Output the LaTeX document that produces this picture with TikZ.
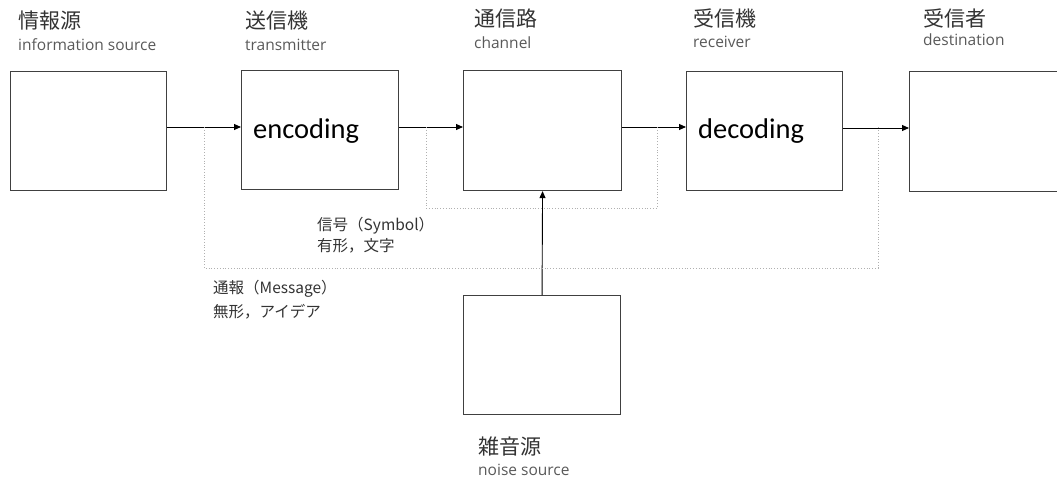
\documentclass[tikz,border=0pt]{standalone}
\usepackage{fontspec}
\setmainfont{Open Sans}
\newfontfamily\jpfont{Noto Sans CJK JP}
\newfontfamily\calibrifont{Carlito}
\usetikzlibrary{arrows.meta}
\definecolor{boxline}{HTML}{404040}
\definecolor{jptext}{HTML}{333333}
\definecolor{entext}{HTML}{595959}
\definecolor{dotline}{HTML}{B0B0B0}
\tikzset{
  blk/.style={draw=boxline, line width=1.1pt, rectangle, anchor=north west, inner sep=0pt},
  jplabel/.style={anchor=base west, inner sep=0pt, text=jptext, font=\jpfont\fontsize{21}{24}\selectfont},
  enlabel/.style={anchor=base west, inner sep=0pt, text=entext, font=\fontsize{15.5}{18}\selectfont},
  smalljp/.style={anchor=base west, inner sep=0pt, text=jptext, font=\jpfont\fontsize{15.5}{18}\selectfont},
  bigword/.style={anchor=base west, inner sep=0pt, text=black, font=\calibrifont\fontsize{28.5}{32}\selectfont},
  arr/.style={draw=black, line width=0.9pt, -{Triangle[length=7pt,width=6pt]}},
  dots/.style={draw=dotline, line width=0.8pt, dotted},
}
\begin{document}
\begin{tikzpicture}[x=1pt,y=-1pt]
\useasboundingbox (0,0) rectangle (1057,479);
% boxes
\node[blk, minimum width=156pt, minimum height=119pt] (src) at (10,71) {};
\node[blk, minimum width=157pt, minimum height=119pt] (tx) at (241,70) {};
\node[blk, minimum width=158pt, minimum height=120pt] (ch) at (463,70) {};
\node[blk, minimum width=156pt, minimum height=119pt] (rx) at (686,71) {};
\node[blk, minimum width=157pt, minimum height=120pt] (dst) at (909,71) {};
\node[blk, minimum width=157pt, minimum height=119pt] (noise) at (463,295) {};
% headers
\node[jplabel] (h1) at (18,28) {情報源};
\node[enlabel] (e1) at (18,50) {information source};
\node[jplabel] (h2) at (245,28) {送信機};
\node[enlabel] (e2) at (245,50) {transmitter};
\node[jplabel] (h3) at (474,27) {通信路};
\node[enlabel] (e3) at (474,48) {channel};
\node[jplabel] (h4) at (693,26) {受信機};
\node[enlabel] (e4) at (693,47) {receiver};
\node[jplabel] (h5) at (923,26) {受信者};
\node[enlabel] (e5) at (923,45) {destination};
\node[jplabel] (h6) at (478,454) {雑音源};
\node[enlabel] (e6) at (478,475) {noise source};
% inner words
\node[bigword] (enc) at (253,138) {encoding};
\node[bigword] (dec) at (698,138) {decoding};
% annotations
\node[smalljp] (sym1) at (317,230) {信号（Symbol）};
\node[smalljp] (sym2) at (317,251) {有形，文字};
\node[smalljp] (msg1) at (213,293) {通報（Message）};
\node[smalljp] (msg2) at (213,317) {無形，アイデア};
% arrows
\draw[arr] (src.east |- 0,127) -- (tx.west |- 0,127);
\draw[arr] (tx.east |- 0,127) -- (ch.west |- 0,127);
\draw[arr] (ch.east |- 0,127) -- (rx.west |- 0,127);
\draw[arr] (rx.east |- 0,128) -- (dst.west |- 0,128);
\draw[arr] (noise.north) -- (ch.south);
% dotted groupings
\coordinate (m1) at (204,127);
\coordinate (m2) at (878,127);
\coordinate (s1) at (426,127);
\coordinate (s2) at (657,127);
\draw[dots] (m1) -- (204,268) -- (878,268) -- (m2);
\draw[dots] (s1) -- (426,208) -- (657,208) -- (s2);
\end{tikzpicture}
\end{document}
